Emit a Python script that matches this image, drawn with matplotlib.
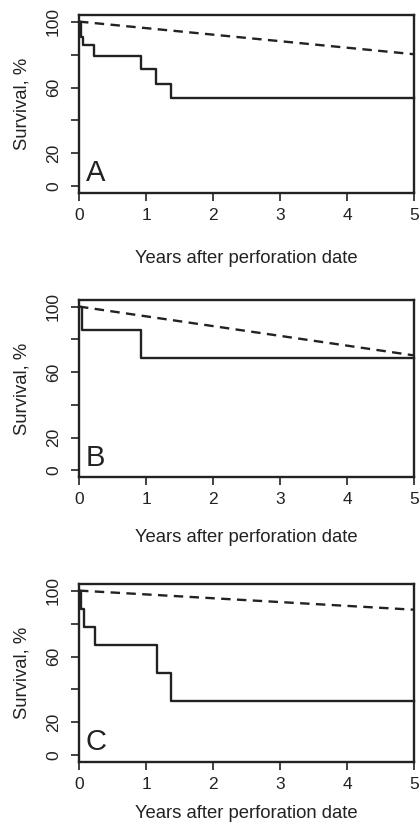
import matplotlib.pyplot as plt

plt.rcParams['font.family'] = ['Liberation Sans', 'DejaVu Sans']

# Kaplan-Meier step data (years, survival %)
years_A = [0, 0.03, 0.06, 0.23, 0.93, 1.15, 1.38, 5]
surv_A = [100, 90.5, 85.5, 79.2, 71.2, 62.0, 53.4, 53.4]
years_B = [0, 0.04, 0.93, 5]
surv_B = [100, 85.5, 68.4, 68.4]
years_C = [0, 0.035, 0.075, 0.24, 1.16, 1.38, 5]
surv_C = [100, 88.9, 77.8, 66.7, 50.0, 33.3, 33.3]

# expected (reference population) survival, dashed
exp_years = [0, 5]
exp_A = [100, 80.2]
exp_B = [100, 70.2]
exp_C = [100, 88.4]

panels = ['A', 'B', 'C']
y_ticks = [0, 20, 40, 60, 80, 100]
y_labels = ['0', '20', '', '60', '', '100']
x_ticks = [0, 1, 2, 3, 4, 5]

W, H = 419, 833
fig = plt.figure(figsize=(W / 100, H / 100), dpi=100)

# axes boxes in pixels: (top, bottom), and x-label gap per panel
boxes = [(15, 193), (300, 477), (584, 762)]
xlab_pads = [19, 16, 9]
left, right = 79, 414

data = [(years_A, surv_A, exp_A), (years_B, surv_B, exp_B), (years_C, surv_C, exp_C)]
ink = '#222222'

for (top, bot), pad, (yrs, sv, ex), letter in zip(boxes, xlab_pads, data, panels):
    ax = fig.add_axes([left / W, 1 - bot / H, (right - left) / W, (bot - top) / H])
    ax.step(yrs, sv, where='post', color=ink, lw=1.7, clip_on=False)
    ax.plot(exp_years, ex, color=ink, lw=1.7, dashes=(4, 2.7))
    ax.set_xlim(0, 5)
    ax.set_ylim(-4, 104)
    ax.set_xticks(x_ticks)
    ax.set_yticks(y_ticks)
    ax.set_yticklabels(y_labels, rotation=90, va='center')
    ax.tick_params(axis='both', length=6, width=1.2, color=ink, labelsize=12.5,
                   labelcolor=ink, direction='out')
    ax.tick_params(axis='y', pad=7)
    ax.tick_params(axis='x', pad=5)
    for s in ax.spines.values():
        s.set_linewidth(1.7)
        s.set_color(ink)
    ax.set_ylabel('Survival, %', fontsize=13.3, color=ink, labelpad=11)
    ax.set_xlabel('Years after perforation date', fontsize=13.3, color=ink, labelpad=pad)
    ax.text(0.1, 3, letter, fontsize=21, color=ink, va='baseline', ha='left')

fig.savefig('out.png', dpi=100)
